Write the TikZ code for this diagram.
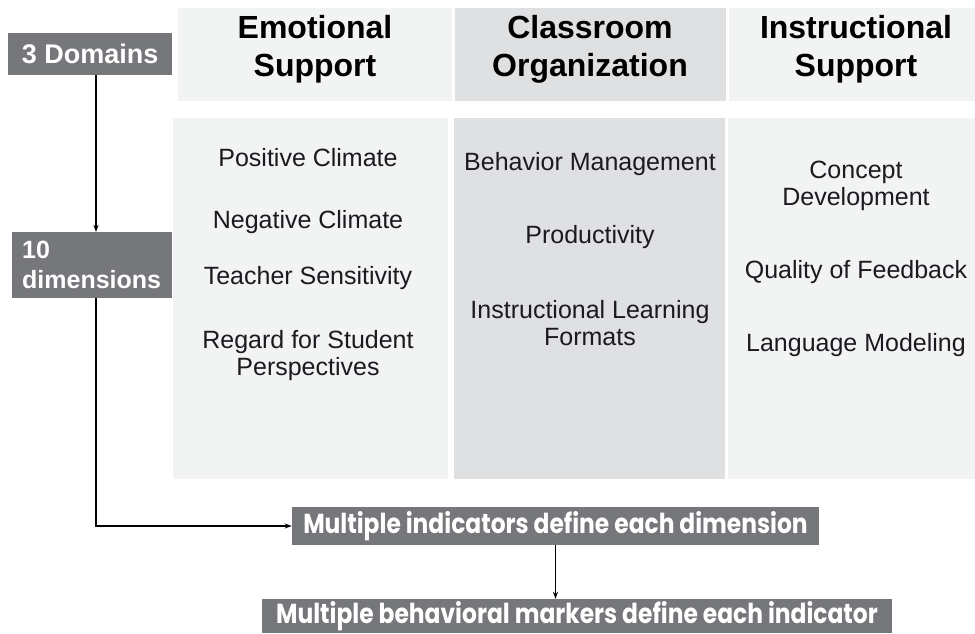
\documentclass[tikz,border=0pt]{standalone}
\usepackage{fontspec}
\setmainfont{Liberation Sans}
\newfontfamily\markfont{Poppins}[FakeStretch=0.85]
\usetikzlibrary{positioning, arrows.meta}
\usepackage{xcolor}
\definecolor{panelgray}{HTML}{F2F3F3}
\definecolor{midgray}{HTML}{DFE0E2}
\definecolor{boxgray}{HTML}{76777B}
\definecolor{inkgray}{HTML}{1A1A20}

\begin{document}
\begin{tikzpicture}[x=1pt,y=-1pt,
    panel/.style={fill=panelgray,inner sep=0pt,anchor=north west},
    head/.style={font=\fontsize{32}{38}\selectfont\bfseries,align=center,text=black},
    item/.style={font=\fontsize{25}{27}\selectfont,align=center,text=inkgray},
    tag/.style={fill=boxgray,text=white,font=\fontsize{25}{30}\selectfont\bfseries,inner sep=0pt,anchor=north west},
    bar/.style={fill=boxgray,text=white,font=\markfont\fontsize{27.5}{30}\selectfont\bfseries,inner sep=0pt},
    arr/.style={-{Stealth[length=7pt,width=5pt]},line width=1.2pt,black}]
  \clip (0,0) rectangle (975,633);
  % domain headers
  \node[panel,minimum width=274,minimum height=93](hdE) at (178,8){};
  \node[panel,fill=midgray,minimum width=271,minimum height=93](hdC) at (455,8){};
  \node[panel,minimum width=246,minimum height=93](hdI) at (729,8){};
  \node[head] at (315,49){Emotional\\Support};
  \node[head] at (590,49){Classroom\\Organization};
  \node[head] at (856,49){Instructional\\Support};
  % dimension panels
  \node[panel,minimum width=275,minimum height=361](dmE) at (173,118){};
  \node[panel,fill=midgray,minimum width=271,minimum height=361](dmC) at (454,118){};
  \node[panel,minimum width=247,minimum height=361](dmI) at (728,118){};
  \node[item](pc) at (308,158){Positive Climate};
  \node[item](nc) at (308,222){Negative Climate};
  \node[item](ts) at (308,278){Teacher Sensitivity};
  \node[item](rs) at (308,356){Regard for Student\\Perspectives};
  \node[item](bm) at (590,164){Behavior Management};
  \node[item](pr) at (590,237){Productivity};
  \node[item](il) at (590,323){Instructional Learning\\Formats};
  \node[item](cd) at (856,186){Concept\\Development};
  \node[item](qf) at (856,272){Quality of Feedback};
  \node[item](lm) at (856,345){Language Modeling};
  % levels on the left
  \node[tag,font=\fontsize{27}{30}\selectfont\bfseries,minimum width=164,minimum height=42](dom) at (8,33){3 Domains};
  \node[tag,minimum height=66,text width=140,inner xsep=10,align=left](dim) at (12,232){10\\dimensions};
  % indicators and markers
  \node[bar,minimum width=527,minimum height=38](ind) at (555.5,526){Multiple indicators define each dimension};
  \node[bar,minimum width=630,minimum height=34](mark) at (577,616){Multiple behavioral markers define each indicator};
  \coordinate (spine) at (96,0);
  \draw[arr](dom.south -| spine)--(dim.north -| spine);
  \draw[arr](dim.south -| spine)|-(ind.west);
  \draw[arr](ind.south)--(ind.south |- mark.north);
\end{tikzpicture}
\end{document}
